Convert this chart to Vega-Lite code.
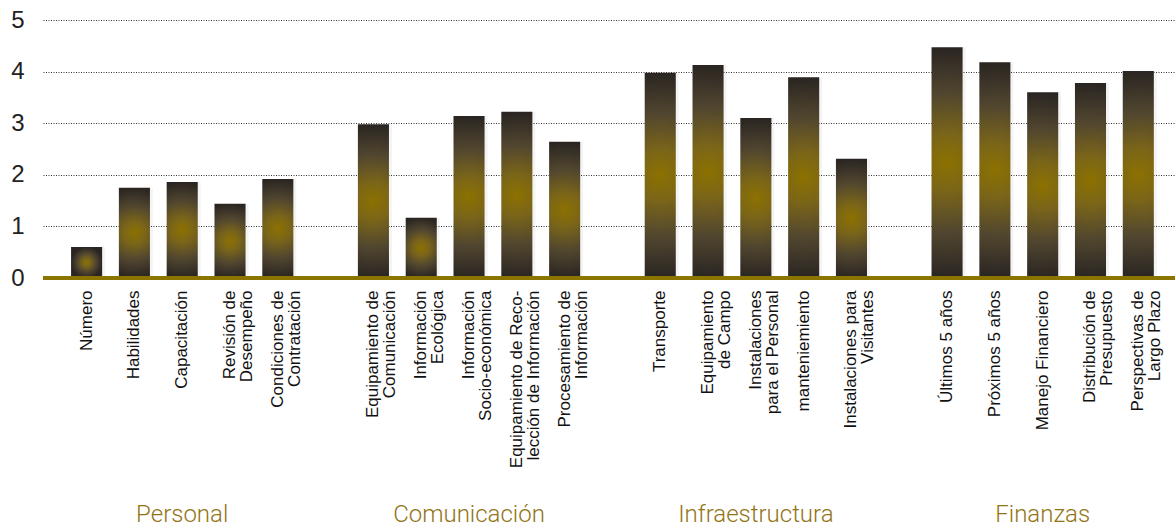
{
  "$schema": "https://vega.github.io/schema/vega-lite/v6.json",
  "width": 1132,
  "height": 258,
  "autosize": "none",
  "padding": {"left": 43, "top": 20, "right": 0, "bottom": 250},
  "background": "#ffffff",
  "config": {"view": {"stroke": null}},
  "data": {
    "values": [
      {"item": "Número", "group": "Personal", "value": 0.6},
      {"item": "Habilidades", "group": "Personal", "value": 1.75},
      {"item": "Capacitación", "group": "Personal", "value": 1.86},
      {"item": "Revisión de|Desempeño", "group": "Personal", "value": 1.44},
      {"item": "Condiciones de|Contratación", "group": "Personal", "value": 1.92},
      {"item": "Equipamiento de|Comunicación", "group": "Comunicación", "value": 2.98},
      {"item": "Información|Ecológica", "group": "Comunicación", "value": 1.17},
      {"item": "Información|Socio-económica", "group": "Comunicación", "value": 3.14},
      {"item": "Equipamiento de Reco-|lección de Información", "group": "Comunicación", "value": 3.22},
      {"item": "Procesamiento de|Información", "group": "Comunicación", "value": 2.64},
      {"item": "Transporte", "group": "Infraestructura", "value": 3.98},
      {"item": "Equipamiento|de Campo", "group": "Infraestructura", "value": 4.13},
      {"item": "Instalaciones|para el Personal", "group": "Infraestructura", "value": 3.10},
      {"item": "manteniemiento", "group": "Infraestructura", "value": 3.89},
      {"item": "Instalaciones para|Visitantes", "group": "Infraestructura", "value": 2.31},
      {"item": "Últimos 5 años", "group": "Finanzas", "value": 4.47},
      {"item": "Próximos 5 años", "group": "Finanzas", "value": 4.18},
      {"item": "Manejo Financiero", "group": "Finanzas", "value": 3.60},
      {"item": "Distribución de|Presupuesto", "group": "Finanzas", "value": 3.78},
      {"item": "Perspectivas de|Largo Plazo", "group": "Finanzas", "value": 4.01}
    ]
  },
  "layer": [
    {
      "mark": {"type": "bar", "fill": "#000000", "opacity": 0.045, "xOffset": 3},
      "encoding": {
        "x": {
          "field": "item",
          "type": "nominal",
          "sort": null,
          "scale": {
            "domain": ["Número", "Habilidades", "Capacitación", "Revisión de|Desempeño", "Condiciones de|Contratación", "g1",
              "Equipamiento de|Comunicación", "Información|Ecológica", "Información|Socio-económica", "Equipamiento de Reco-|lección de Información", "Procesamiento de|Información", "g2",
              "Transporte", "Equipamiento|de Campo", "Instalaciones|para el Personal", "manteniemiento", "Instalaciones para|Visitantes", "g3",
              "Últimos 5 años", "Próximos 5 años", "Manejo Financiero", "Distribución de|Presupuesto", "Perspectivas de|Largo Plazo"],
            "paddingInner": 0.35,
            "paddingOuter": 0.515,
            "align": 0.57
          },
          "axis": {
            "title": null,
            "orient": "bottom",
            "domain": false,
            "ticks": false,
            "grid": false,
            "labelAngle": -90,
            "labelAlign": "right",
            "labelBaseline": "middle",
            "labelPadding": 12,
            "labelFont": "Liberation Sans",
            "labelFontSize": 17,
            "labelLineHeight": 17,
            "labelColor": "#111111",
            "labelOverlap": false,
            "labelBound": false,
            "labelLimit": 400,
            "labelExpr": "indexof(['g1','g2','g3'], datum.value) >= 0 ? '' : split(datum.value, '|')"
          }
        },
        "y": {
          "field": "value",
          "type": "quantitative",
          "scale": {"domain": [0, 5], "nice": false},
          "axis": {
            "title": null,
            "values": [0, 1, 2, 3, 4, 5],
            "domain": false,
            "ticks": false,
            "grid": true,
            "gridColor": "#333333",
            "gridDash": [1, 1.5],
            "gridWidth": 1,
            "labelFont": "Liberation Sans",
            "labelFontSize": 24,
            "labelColor": "#222222",
            "labelPadding": 19
          }
        }
      }
    },
    {
      "mark": {
        "type": "bar",
        "fill": {
          "gradient": "radial",
          "x1": 0.5, "y1": 0.5, "r1": 0,
          "x2": 0.5, "y2": 0.5, "r2": 0.5,
          "stops": [
            {"offset": 0, "color": "#8c7100"},
            {"offset": 0.25, "color": "#7a6519"},
            {"offset": 0.6, "color": "#51462f"},
            {"offset": 1, "color": "#2a2522"}
          ]
        }
      },
      "encoding": {
        "x": {
          "field": "item",
          "type": "nominal",
          "sort": null,
          "axis": {
            "title": null,
            "orient": "bottom",
            "domain": false,
            "ticks": false,
            "grid": false,
            "labelAngle": 0,
            "labelAlign": "center",
            "labelBaseline": "alphabetic",
            "labelPadding": 243,
            "labelFont": "Roboto",
            "labelFontWeight": 300,
            "labelFontSize": 24,
            "labelColor": "#927416",
            "labelOverlap": false,
            "labelBound": false,
            "labelLimit": 400,
            "labelExpr": "datum.value == 'Capacitación' ? 'Personal' : datum.value == 'Información|Socio-económica' ? 'Comunicación' : datum.value == 'Instalaciones|para el Personal' ? 'Infraestructura' : datum.value == 'Manejo Financiero' ? 'Finanzas' : ''"
          }
        },
        "y": {"field": "value", "type": "quantitative"}
      }
    },
    {
      "mark": {"type": "rule", "stroke": "#8c7400", "strokeWidth": 3},
      "encoding": {"y": {"datum": 0}}
    }
  ],
  "resolve": {"axis": {"x": "independent"}}
}
